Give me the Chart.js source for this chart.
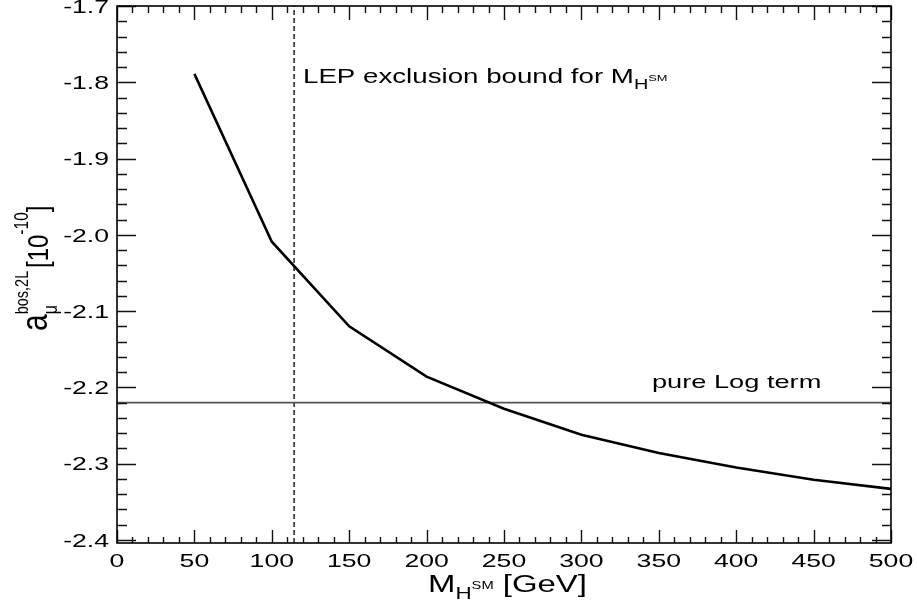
<!DOCTYPE html>
<html>
<head>
<meta charset="utf-8">
<script src="https://cdn.jsdelivr.net/npm/chart.js@4.4.1/dist/chart.umd.min.js"></script>
<style>
  html, body { margin: 0; padding: 0; background: #fff; }
  #wrap { width: 917px; height: 602px; }
</style>
</head>
<body>
<div id="wrap"><canvas id="chart" width="917" height="602"></canvas></div>
<script>
// data
const higgsMass = [50, 100, 150, 200, 250, 300, 350, 400, 450, 500];
const amuBos2L = [-1.789, -2.009, -2.120, -2.186, -2.228, -2.262, -2.286, -2.305, -2.321, -2.333];
const logTermValue = -2.22;
const lepBoundMass = 114.4;

// axis ticks
const xTicks = [0, 50, 100, 150, 200, 250, 300, 350, 400, 450, 500];
const xTickLabels = ['0', '50', '100', '150', '200', '250', '300', '350', '400', '450', '500'];
const yTicks = [-2.4, -2.3, -2.2, -2.1, -2.0, -1.9, -1.8, -1.7];
const yTickLabels = ['-2.4', '-2.3', '-2.2', '-2.1', '-2.0', '-1.9', '-1.8', '-1.7'];

const FONT = "'Liberation Sans', Arial, Helvetica, sans-serif";

// draws a text with a horizontal stretch (the original figure is stretched sideways)
function stretched(ctx, txt, x, y, size, sx, align) {
  ctx.save();
  ctx.font = size + 'px ' + FONT;
  ctx.translate(x, y);
  ctx.scale(sx, 1);
  ctx.textAlign = align || 'left';
  ctx.textBaseline = 'alphabetic';
  ctx.fillText(txt, 0, 0);
  ctx.restore();
}

// runs of text with sub/superscripts, drawn in the current transform
function drawRuns(ctx, runs, x, y) {
  let cx = x, keep = 0;
  runs.forEach(r => {
    ctx.font = r.size + 'px ' + FONT;
    ctx.fillText(r.t, cx, y + (r.dy || 0));
    const rw = ctx.measureText(r.t).width;
    if (r.keep) { keep = rw; } else { cx += Math.max(rw, keep); keep = 0; }
  });
}

const framePlugin = {
  id: 'frame',
  afterDatasetsDraw(chart) {
    const ctx = chart.ctx;
    const a = chart.chartArea;
    const xs = chart.scales.x, ys = chart.scales.y;
    ctx.save();
    ctx.fillStyle = '#000';

    // ticks on all four sides, pointing inwards
    ctx.strokeStyle = '#111';
    ctx.lineWidth = 1.4;
    ctx.beginPath();
    for (let v = 0; v <= 500; v += 10) {
      const px = Math.round(xs.getPixelForValue(v)) + 0.5;
      const major = v % 50 === 0;
      ctx.moveTo(px, a.bottom); ctx.lineTo(px, a.bottom - (major ? 13 : 6));
      ctx.moveTo(px, a.top); ctx.lineTo(px, a.top + (major ? 14 : 7));
    }
    for (let i = 0; i <= 35; i++) {
      const v = -2.4 + i * 0.02;
      const py = Math.round(ys.getPixelForValue(v)) + 0.5;
      const major = i % 5 === 0;
      ctx.moveTo(a.left, py); ctx.lineTo(a.left + (major ? 19 : 10), py);
      ctx.moveTo(a.right, py); ctx.lineTo(a.right - (major ? 19 : 9), py);
    }
    ctx.stroke();

    // frame
    ctx.strokeStyle = '#000';
    ctx.lineWidth = 1.6;
    ctx.strokeRect(a.left, a.top, a.right - a.left, a.bottom - a.top);

    // tick labels
    xTicks.forEach((v, i) => {
      stretched(ctx, xTickLabels[i], xs.getPixelForValue(v), 567, 19, 1.4, 'center');
    });
    yTicks.forEach((v, i) => {
      stretched(ctx, yTickLabels[i], 109, ys.getPixelForValue(v) + 6.8, 19, 1.4, 'right');
    });

    // x title: M_{H^SM} [GeV]
    ctx.save();
    ctx.translate(428, 592);
    ctx.scale(1.4, 1);
    ctx.textAlign = 'left';
    drawRuns(ctx, [
      { t: 'M', size: 23.5 },
      { t: 'H', size: 16, dy: 7 },
      { t: 'SM', size: 10.5, dy: -3 },
      { t: ' [GeV]', size: 23.5 }
    ], 0, 0);
    ctx.restore();

    // y title: a_mu^{bos,2L} [10^-10]
    ctx.save();
    ctx.translate(47, 331);
    ctx.rotate(-Math.PI / 2);
    ctx.scale(1, 1.25);
    ctx.textAlign = 'left';
    drawRuns(ctx, [
      { t: 'a', size: 30 },
      { t: 'μ', size: 16, dy: 8, keep: true },
      { t: 'bos,2L', size: 14.5, dy: -15 },
      { t: ' ', size: 10 },
      { t: '[10', size: 24, dy: 1 },
      { t: '-10', size: 15.5, dy: -15 },
      { t: ']', size: 24, dy: 1 }
    ], 0, 0);
    ctx.restore();

    // annotations
    ctx.save();
    ctx.translate(303, 83);
    ctx.scale(1.42, 1);
    drawRuns(ctx, [
      { t: 'LEP exclusion bound for M', size: 19.5 },
      { t: 'H', size: 14, dy: 6 },
      { t: 'SM', size: 9, dy: -2 }
    ], 0, 0);
    ctx.restore();
    stretched(ctx, 'pure Log term', 652, 388, 18.5, 1.47, 'left');

    ctx.restore();
  }
};

new Chart(document.getElementById('chart'), {
  type: 'line',
  data: {
    datasets: [
      {
        label: 'a_mu bos 2L',
        data: higgsMass.map((m, i) => ({ x: m, y: amuBos2L[i] })),
        borderColor: '#000',
        borderWidth: 2.6,
        pointRadius: 0,
        tension: 0
      },
      {
        label: 'pure Log term',
        data: [{ x: 0, y: logTermValue }, { x: 500, y: logTermValue }],
        borderColor: '#555',
        borderWidth: 1.6,
        pointRadius: 0
      },
      {
        label: 'LEP bound',
        data: [{ x: lepBoundMass, y: -2.404 }, { x: lepBoundMass, y: -1.7 }],
        borderColor: '#000',
        borderWidth: 1.3,
        borderDash: [5, 3],
        pointRadius: 0
      }
    ]
  },
  options: {
    responsive: false,
    animation: false,
    devicePixelRatio: 1,
    layout: { padding: { top: 6, right: 26, bottom: 0, left: 0 } },
    plugins: { legend: { display: false }, tooltip: { enabled: false } },
    scales: {
      x: {
        type: 'linear', min: 0, max: 500,
        ticks: { display: false },
        grid: { display: false },
        border: { display: false },
        afterFit: s => { s.height = 59; }
      },
      y: {
        type: 'linear', min: -2.404, max: -1.7,
        ticks: { display: false },
        grid: { display: false },
        border: { display: false },
        afterFit: s => { s.width = 117; }
      }
    }
  },
  plugins: [framePlugin]
});
</script>
</body>
</html>
